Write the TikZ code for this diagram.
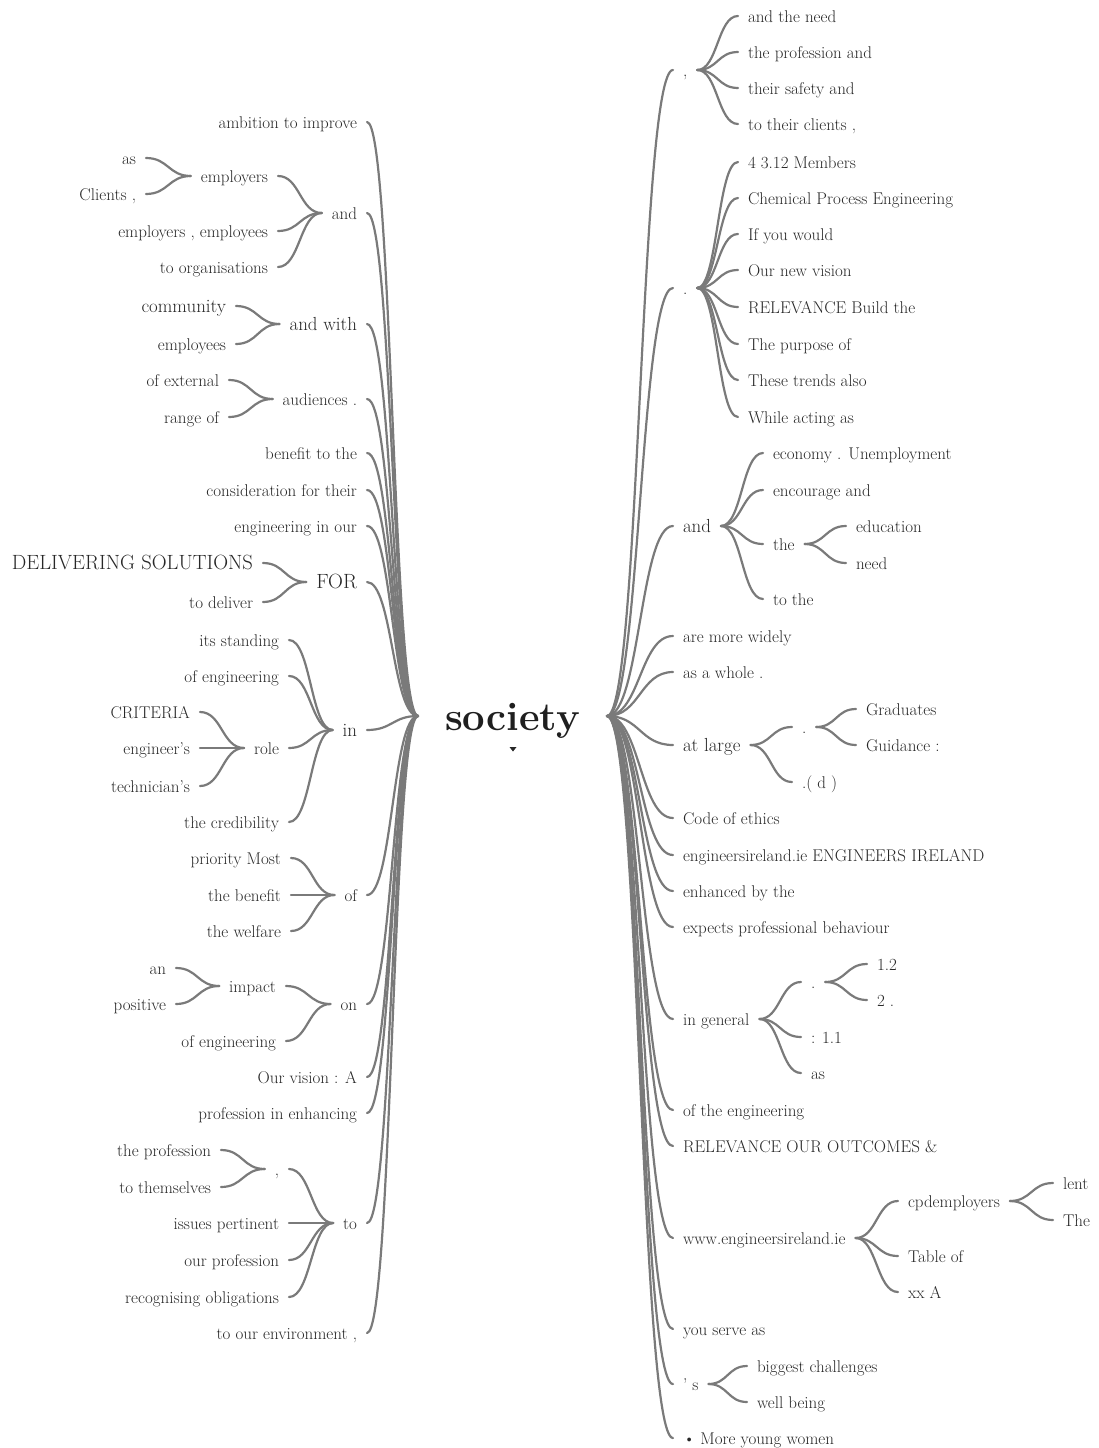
\documentclass[tikz,border=0pt]{standalone}
\usepackage{fontspec}
\usetikzlibrary{calc}
\definecolor{ink}{HTML}{272727}
\definecolor{wire}{HTML}{7A7A7A}

\tikzset{
  w/.style={font=\fontsize{17}{20}\selectfont, text=ink, inner xsep=10pt,
            inner ysep=0pt, outer sep=0pt, text height=12pt, text depth=0pt},
  wl/.style={w, anchor=east},
  wr/.style={w, anchor=west},
  big/.style={font=\fontsize{18.9}{22}\selectfont, text height=13pt},
  bigger/.style={font=\fontsize{20.6}{24}\selectfont, text height=13.5pt},
  root/.style={font=\fontsize{40}{44}\selectfont\bfseries, text=black!88,
               inner sep=0pt, outer sep=0pt, minimum width=189pt,
               text height=28pt, text depth=0pt},
  link/.style={draw=wire, line width=2.2pt, line cap=round},
}

% smooth branch with horizontal ends, from the east side of #1 to the west side of #2
\newcommand\lnk[2]{\draw[link] let \p1=(#1.east), \p2=(#2.west),
  \p3=($(\p1)!0.5!(\p2)$) in (\p1) .. controls (\x3,\y1) and (\x3,\y2) .. (\p2);}

\begin{document}
\begin{tikzpicture}[x=1pt, y=-1pt]
\useasboundingbox (0,0) rectangle (1098,1448);

% central word
\node[root] (S) at (512.5,716) {society};
\fill[ink] (509.5,747) -- (516.5,747) -- (513,751.5) -- cycle;

% ---------- left branches ----------
\node[wl] (a1) at (367,122) {ambition to improve};
\node[wl] (a2) at (367,213) {and};
 \node[wl] (a2a) at (278,176) {employers};
  \node[wl] (a2a1) at (146,158) {as};
  \node[wl] (a2a2) at (146,194) {Clients ,};
 \node[wl] (a2b) at (278,231) {employers , employees};
 \node[wl] (a2c) at (278,267) {to organisations};
\node[wl,big] (a3) at (367,324) {and with};
 \node[wl,big] (a3a) at (236,306) {community};
 \node[wl] (a3b) at (236,344) {employees};
\node[wl] (a4) at (367,399) {audiences .};
 \node[wl] (a4a) at (229,380) {of external};
 \node[wl] (a4b) at (229,417) {range of};
\node[wl] (a5) at (367,453) {benefit to the};
\node[wl] (a6) at (367,490) {consideration for their};
\node[wl] (a7) at (367,526) {engineering in our};
\node[wl,bigger] (a8) at (367,582) {FOR};
 \node[wl,bigger] (a8a) at (263,563) {DELIVERING SOLUTIONS};
 \node[wl] (a8b) at (263,602) {to deliver};
\node[wl,big] (a9) at (367,730) {in};
 \node[wl] (a9a) at (289,640) {its standing};
 \node[wl] (a9b) at (289,676) {of engineering};
 \node[wl] (a9c) at (289,748) {role};
  \node[wl] (a9c1) at (200,712) {CRITERIA};
  \node[wl] (a9c2) at (200,748) {engineer’s};
  \node[wl] (a9c3) at (200,786) {technician’s};
 \node[wl] (a9d) at (289,822) {the credibility};
\node[wl] (a10) at (367,895) {of};
 \node[wl] (a10a) at (291,858) {priority Most};
 \node[wl] (a10b) at (291,895) {the benefit};
 \node[wl] (a10c) at (291,931) {the welfare};
\node[wl] (a11) at (367,1004) {on};
 \node[wl] (a11a) at (286,986) {impact};
  \node[wl] (a11a1) at (176,968) {an};
  \node[wl] (a11a2) at (176,1004) {positive};
 \node[wl] (a11b) at (286,1041) {of engineering};
\node[wl] (a12) at (367,1077) {Our vision : A};
\node[wl] (a13) at (367,1113) {profession in enhancing};
\node[wl] (a14) at (367,1223) {to};
 \node[wl] (a14a) at (289,1169) {,};
  \node[wl] (a14a1) at (221,1150) {the profession};
  \node[wl] (a14a2) at (221,1187) {to themselves};
 \node[wl] (a14b) at (289,1223) {issues pertinent};
 \node[wl] (a14c) at (289,1260) {our profession};
 \node[wl] (a14d) at (289,1297) {recognising obligations};
\node[wl] (a15) at (367,1333) {to our environment ,};

\foreach \c in {a1,a2,a3,a4,a5,a6,a7,a8,a9,a10,a11,a12,a13,a14,a15} {\lnk{\c}{S}}
\foreach \c in {a2a,a2b,a2c} {\lnk{\c}{a2}}
\foreach \c in {a2a1,a2a2} {\lnk{\c}{a2a}}
\foreach \c in {a3a,a3b} {\lnk{\c}{a3}}
\foreach \c in {a4a,a4b} {\lnk{\c}{a4}}
\foreach \c in {a8a,a8b} {\lnk{\c}{a8}}
\foreach \c in {a9a,a9b,a9c,a9d} {\lnk{\c}{a9}}
\foreach \c in {a9c1,a9c2,a9c3} {\lnk{\c}{a9c}}
\foreach \c in {a10a,a10b,a10c} {\lnk{\c}{a10}}
\foreach \c in {a11a,a11b} {\lnk{\c}{a11}}
\foreach \c in {a11a1,a11a2} {\lnk{\c}{a11a}}
\foreach \c in {a14a,a14b,a14c,a14d} {\lnk{\c}{a14}}
\foreach \c in {a14a1,a14a2} {\lnk{\c}{a14a}}

% ---------- right branches ----------
\node[wr] (b1) at (673,70) {,};
 \node[wr] (b1a) at (738,16) {and the need};
 \node[wr] (b1b) at (738,52) {the profession and};
 \node[wr] (b1c) at (738,88) {their safety and};
 \node[wr] (b1d) at (738,124) {to their clients ,};
\node[wr] (b2) at (673,288) {.};
 \node[wr] (b2a) at (738,162) {4 3.12 Members};
 \node[wr] (b2b) at (738,198) {Chemical Process Engineering};
 \node[wr] (b2c) at (738,234) {If you would};
 \node[wr] (b2d) at (738,270) {Our new vision};
 \node[wr] (b2e) at (738,307) {RELEVANCE Build the};
 \node[wr] (b2f) at (738,344) {The purpose of};
 \node[wr] (b2g) at (738,380) {These trends also};
 \node[wr] (b2h) at (738,417) {While acting as};
\node[wr,big] (b3) at (673,526) {and};
 \node[wr] (b3a) at (763,453) {economy . Unemployment};
 \node[wr] (b3b) at (763,490) {encourage and};
 \node[wr] (b3c) at (763,544) {the};
  \node[wr] (b3c1) at (846,526) {education};
  \node[wr] (b3c2) at (846,563) {need};
 \node[wr] (b3d) at (763,599) {to the};
\node[wr] (b4) at (673,636) {are more widely};
\node[wr] (b5) at (673,672) {as a whole .};
\node[wr,big] (b6) at (673,745) {at large};
 \node[wr] (b6a) at (792,727) {.};
  \node[wr] (b6a1) at (856,709) {Graduates};
  \node[wr] (b6a2) at (856,745) {Guidance :};
 \node[wr] (b6b) at (792,782) {.( d )};
\node[wr] (b7) at (673,818) {Code of ethics};
\node[wr] (b8) at (673,855) {engineersireland.ie ENGINEERS IRELAND};
\node[wr] (b9) at (673,891) {enhanced by the};
\node[wr] (b10) at (673,927) {expects professional behaviour};
\node[wr] (b11) at (673,1019) {in general};
 \node[wr] (b11a) at (801,982) {.};
  \node[wr] (b11a1) at (867,964) {1.2};
  \node[wr] (b11a2) at (867,1000) {2 .};
 \node[wr] (b11b) at (801,1037) {: 1.1};
 \node[wr] (b11c) at (801,1073) {as};
\node[wr] (b12) at (673,1110) {of the engineering};
\node[wr] (b13) at (673,1146) {RELEVANCE OUR OUTCOMES \&};
\node[wr] (b14) at (673,1238) {www.engineersireland.ie};
 \node[wr] (b14a) at (898,1201) {cpdemployers};
  \node[wr] (b14a1) at (1053,1183) {lent};
  \node[wr] (b14a2) at (1053,1220) {The};
 \node[wr] (b14b) at (898,1256) {Table of};
 \node[wr] (b14c) at (898,1292) {xx A};
\node[wr] (b15) at (673,1329) {you serve as};
\node[wr] (b16) at (673,1384) {’ s};
 \node[wr] (b16a) at (747,1366) {biggest challenges};
 \node[wr] (b16b) at (747,1402) {well being};
\node[wr] (b17) at (673,1438) {\textbullet{} More young women};

\foreach \c in {b1,b2,b3,b4,b5,b6,b7,b8,b9,b10,b11,b12,b13,b14,b15,b16,b17} {\lnk{S}{\c}}
\foreach \c in {b1a,b1b,b1c,b1d} {\lnk{b1}{\c}}
\foreach \c in {b2a,b2b,b2c,b2d,b2e,b2f,b2g,b2h} {\lnk{b2}{\c}}
\foreach \c in {b3a,b3b,b3c,b3d} {\lnk{b3}{\c}}
\foreach \c in {b3c1,b3c2} {\lnk{b3c}{\c}}
\foreach \c in {b6a,b6b} {\lnk{b6}{\c}}
\foreach \c in {b6a1,b6a2} {\lnk{b6a}{\c}}
\foreach \c in {b11a,b11b,b11c} {\lnk{b11}{\c}}
\foreach \c in {b11a1,b11a2} {\lnk{b11a}{\c}}
\foreach \c in {b14a,b14b,b14c} {\lnk{b14}{\c}}
\foreach \c in {b14a1,b14a2} {\lnk{b14a}{\c}}
\foreach \c in {b16a,b16b} {\lnk{b16}{\c}}
\end{tikzpicture}
\end{document}
